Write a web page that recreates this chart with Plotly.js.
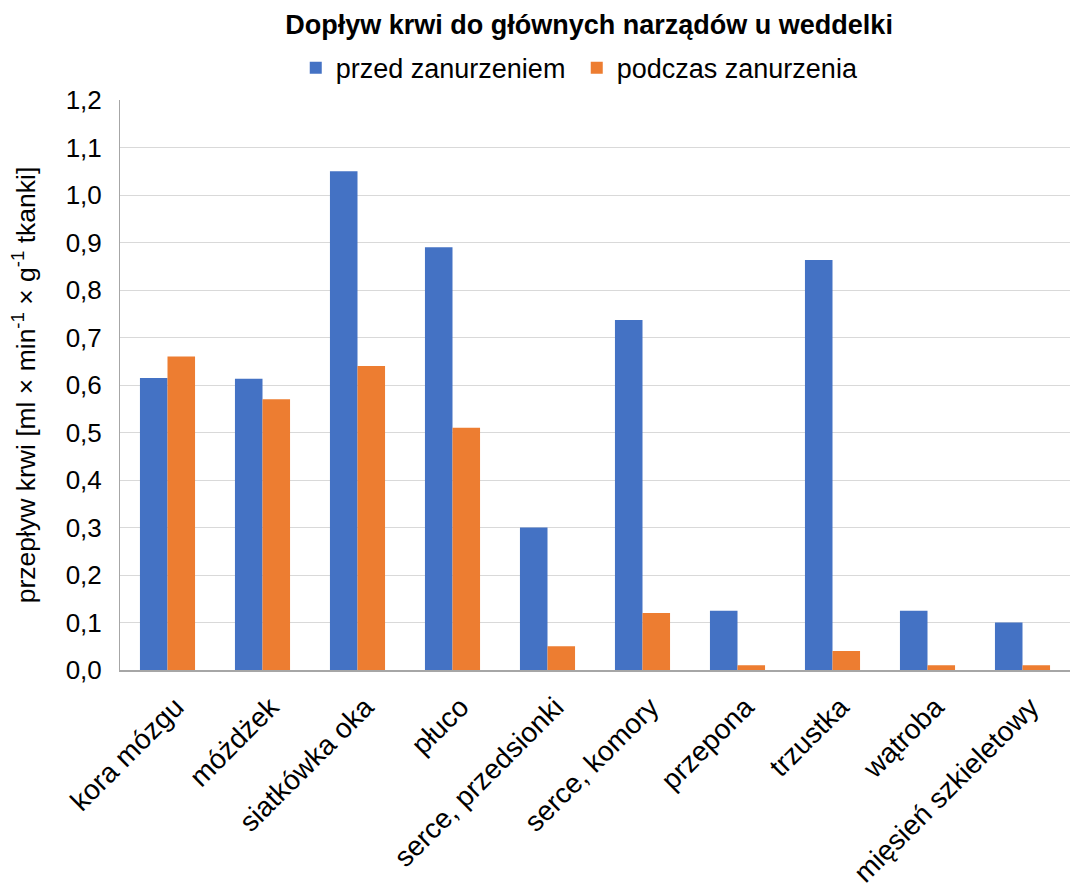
<!DOCTYPE html>
<html>
<head>
<meta charset="utf-8">
<script src="https://cdn.plot.ly/plotly-3.0.1.min.js"></script>
<style>html,body{margin:0;padding:0;background:#fff;}#chart{width:1077px;height:893px;}</style>
</head>
<body>
<div id="chart"></div>
<script>
const categories = ["kora mózgu", "móżdżek", "siatkówka oka", "płuco", "serce, przedsionki", "serce, komory", "przepona", "trzustka", "wątroba", "mięsień szkieletowy"];
const przed = [0.615, 0.613, 1.05, 0.89, 0.30, 0.737, 0.125, 0.863, 0.125, 0.10];
const podczas = [0.66, 0.57, 0.64, 0.51, 0.05, 0.12, 0.01, 0.04, 0.01, 0.01];
const seriesNames = ["przed zanurzeniem", "podczas zanurzenia"];
const tickVals = [0, 0.1, 0.2, 0.3, 0.4, 0.5, 0.6, 0.7, 0.8, 0.9, 1.0, 1.1, 1.2];
const tickText = ["0,0", "0,1", "0,2", "0,3", "0,4", "0,5", "0,6", "0,7", "0,8", "0,9", "1,0", "1,1", "1,2"];

const font = "Liberation Sans, Arial, sans-serif";
const data = [
  {type: "bar", name: seriesNames[0], x: categories, y: przed, marker: {color: "#4472C4"}},
  {type: "bar", name: seriesNames[1], x: categories, y: podczas, marker: {color: "#ED7D31"}}
];
const layout = {
  width: 1077, height: 893,
  paper_bgcolor: "#fff", plot_bgcolor: "#fff",
  font: {family: font, color: "#000", size: 26},
  title: {text: "<b>Dopływ krwi do głównych narządów u weddelki</b>", x: 0.547, xanchor: "center", y: 0.972, yanchor: "middle", font: {size: 27, family: font, color: "#000"}},
  margin: {l: 120, r: 7, t: 100, b: 223},
  barmode: "group", bargap: 0.42, bargroupgap: 0,
  showlegend: true,
  legend: {orientation: "h", x: 0.185, xanchor: "left", y: 1.056, yanchor: "middle", yref: "paper", font: {size: 27}, itemwidth: 30, entrywidth: 236, entrywidthmode: "pixels", traceorder: "normal", bgcolor: "rgba(0,0,0,0)"},
  xaxis: {tickangle: -45, tickfont: {size: 28}, ticklabelstandoff: 8, ticklabelshift: 8, automargin: false, showline: true, linecolor: "#a6a6a6", linewidth: 1.5, ticks: "", showgrid: false, fixedrange: true},
  yaxis: {range: [0, 1.2], tickvals: tickVals, ticktext: tickText, tickfont: {size: 26}, ticklabelstandoff: 12, automargin: false, showgrid: true, gridcolor: "#d9d9d9", gridwidth: 1, showline: true, linecolor: "#a6a6a6", linewidth: 1, zeroline: false, ticks: "", ticklen: 0,
    title: {text: "przepływ krwi [ml × min<sup>-1</sup> × g<sup>-1</sup> tkanki]", font: {size: 26.5}, standoff: 22}}
};
Plotly.newPlot("chart", data, layout, {staticPlot: true, displayModeBar: false});
</script>
</body>
</html>
